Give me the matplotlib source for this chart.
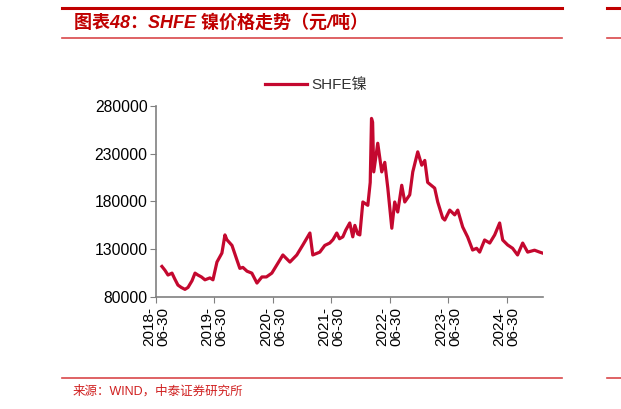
import matplotlib
matplotlib.use('Agg')
import matplotlib.pyplot as plt
import numpy as np
import pandas as pd

plt.rcParams['font.family'] = ['Liberation Sans', 'Noto Sans CJK SC', 'DejaVu Sans']

# SHFE nickel price, yuan/ton
dates = ['2018-08-06', '2018-08-25', '2018-09-13', '2018-10-08', '2018-10-25', '2018-11-14',
         '2018-12-05', '2018-12-28', '2019-01-16', '2019-02-10', '2019-03-01', '2019-03-19',
         '2019-04-10', '2019-05-02', '2019-06-02', '2019-06-21', '2019-07-16', '2019-08-16',
         '2019-09-04', '2019-09-16', '2019-10-18', '2019-11-18', '2019-12-06', '2019-12-25',
         '2020-01-20', '2020-02-19', '2020-03-22', '2020-04-22', '2020-05-20', '2020-06-23',
         '2020-08-12', '2020-08-31', '2020-10-14', '2020-11-26', '2021-01-03', '2021-02-16',
         '2021-03-06', '2021-04-19', '2021-05-20', '2021-06-20', '2021-07-10', '2021-08-03',
         '2021-08-20', '2021-09-10', '2021-09-28', '2021-10-23', '2021-11-11', '2021-11-24',
         '2021-12-12', '2021-12-25', '2022-01-13', '2022-02-13', '2022-02-28', '2022-03-08',
         '2022-03-15', '2022-03-22', '2022-04-16', '2022-05-11', '2022-05-30', '2022-06-18',
         '2022-07-13', '2022-07-31', '2022-08-19', '2022-09-13', '2022-10-02', '2022-11-02',
         '2022-11-21', '2022-12-22', '2023-01-16', '2023-02-04', '2023-02-22', '2023-04-07',
         '2023-04-26', '2023-05-27', '2023-06-09', '2023-07-10', '2023-08-10', '2023-08-29',
         '2023-09-29', '2023-10-30', '2023-11-30', '2023-12-25', '2024-01-13', '2024-02-13',
         '2024-03-16', '2024-04-16', '2024-05-17', '2024-06-05', '2024-07-06', '2024-08-06',
         '2024-09-06', '2024-10-08', '2024-11-08', '2024-12-21', '2025-01-22', '2025-02-09']
price = [112000, 108000, 103000, 105000, 99000, 92500,
         90000, 88000, 90000, 97000, 105000, 103000,
         101000, 98000, 100000, 98000, 116600, 126000,
         145000, 140000, 134000, 118700, 110000, 111000,
         107000, 105000, 94600, 101000, 101000, 105000,
         118700, 124000, 116600, 124000, 134500, 147000,
         124000, 127000, 134000, 136500, 140000, 147000,
         141000, 143000, 150000, 157500, 143000, 155000,
         146000, 145000, 179500, 176000, 200000, 267000,
         263000, 211000, 241000, 211000, 221000, 194000,
         152000, 179500, 169000, 197000, 179500, 187000,
         211000, 232000, 218000, 223000, 200000, 194000,
         179500, 162700, 160600, 171000, 166000, 171000,
         153300, 142800, 129200, 131000, 127000, 139700,
         136500, 145000, 157500, 139700, 134500, 131000,
         124000, 136500, 127000, 129000, 127000, 126000]

tick_dates = ['2018-06-30', '2019-06-30', '2020-06-30', '2021-06-30',
              '2022-06-30', '2023-06-30', '2024-06-30']
tick_labels = [d[:5] + '\n' + d[5:] for d in tick_dates]
yticks = [80000, 130000, 180000, 230000, 280000]

red = '#C00000'
fig = plt.figure(figsize=(6.21, 4.09), dpi=100)

# header / footer rules
for y, lw, c in [(1 - 8 / 409, 2.2, red), (1 - 37.5 / 409, 1.2, '#D9484A'), (1 - 378 / 409, 1.2, '#D9484A')]:
    fig.add_artist(plt.Line2D([62 / 621, 562 / 621], [y, y], color=c, lw=lw))
    fig.add_artist(plt.Line2D([607 / 621, 1.0], [y, y], color=c, lw=lw))

fig.text(74 / 621, 1 - 23 / 409, '图表48：SHFE 镍价格走势（元/吨）', color=red, fontsize=13,
         fontweight='bold', style='italic', va='center', ha='left')
fig.text(73 / 621, 1 - 391 / 409, '来源：WIND，中泰证券研究所', color='#D02020', fontsize=9,
         va='center', ha='left', fontweight='light')

ax = fig.add_axes([156 / 621, 1 - 297 / 409, (543 - 156) / 621, (297 - 106) / 409])
x = pd.to_datetime(dates)
ax.plot(x, price, color='#C4082F', lw=2.3, label='SHFE镍')

ax.set_ylim(80000, 280000)
ax.set_yticks(yticks)
ax.set_xlim(pd.Timestamp('2018-06-30'), pd.Timestamp('2025-02-12'))
ax.set_xticks(pd.to_datetime(tick_dates))
ax.set_xticklabels(tick_labels, rotation=90, fontsize=11, linespacing=1.0)
ax.tick_params(axis='y', labelsize=11.3, length=4, color='#808080', pad=2)
ax.tick_params(axis='x', length=4, color='#808080', pad=3)
for s in ['top', 'right']:
    ax.spines[s].set_visible(False)
for s in ['left', 'bottom']:
    ax.spines[s].set_color('#808080')
    ax.spines[s].set_linewidth(1.2)

leg = ax.legend(loc='center left', bbox_to_anchor=(265 / 621, 1 - 85 / 409),
                bbox_transform=fig.transFigure, frameon=False, fontsize=11,
                handlelength=2.75, handletextpad=0.3, borderpad=0, borderaxespad=0)
for t in leg.get_texts():
    t.set_color('#333333')

fig.savefig('out.png', dpi=100)
